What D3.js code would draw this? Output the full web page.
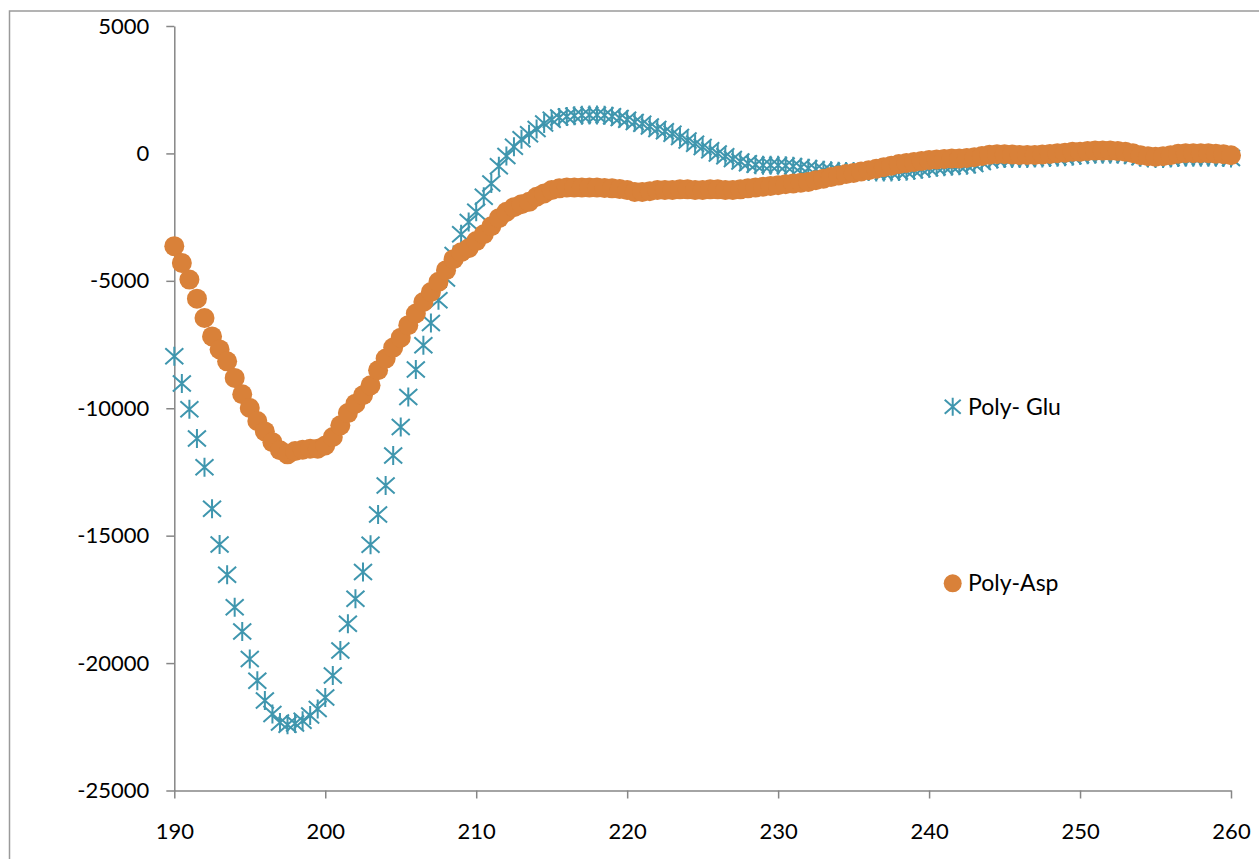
<!DOCTYPE html>
<html>
<head>
<meta charset="utf-8">
<script src="https://cdn.jsdelivr.net/npm/d3@7"></script>
<style>
  html, body { margin: 0; padding: 0; background: #fff; }
  svg { display: block; }
  .axis text { font-family: Lato, "Open Sans", sans-serif; font-size: 22px; fill: #000; }
  .axis path, .axis line { stroke: #868686; stroke-width: 1.5; }
</style>
</head>
<body>
<div id="chart"></div>
<script>
// Wavelength (nm)
const wavelength = [
  190, 190.5, 191, 191.5, 192, 192.5, 193, 193.5, 194, 194.5,
  195, 195.5, 196, 196.5, 197, 197.5, 198, 198.5, 199, 199.5,
  200, 200.5, 201, 201.5, 202, 202.5, 203, 203.5, 204, 204.5,
  205, 205.5, 206, 206.5, 207, 207.5, 208, 208.5, 209, 209.5,
  210, 210.5, 211, 211.5, 212, 212.5, 213, 213.5, 214, 214.5,
  215, 215.5, 216, 216.5, 217, 217.5, 218, 218.5, 219, 219.5,
  220, 220.5, 221, 221.5, 222, 222.5, 223, 223.5, 224, 224.5,
  225, 225.5, 226, 226.5, 227, 227.5, 228, 228.5, 229, 229.5,
  230, 230.5, 231, 231.5, 232, 232.5, 233, 233.5, 234, 234.5,
  235, 235.5, 236, 236.5, 237, 237.5, 238, 238.5, 239, 239.5,
  240, 240.5, 241, 241.5, 242, 242.5, 243, 243.5, 244, 244.5,
  245, 245.5, 246, 246.5, 247, 247.5, 248, 248.5, 249, 249.5,
  250, 250.5, 251, 251.5, 252, 252.5, 253, 253.5, 254, 254.5,
  255, 255.5, 256, 256.5, 257, 257.5, 258, 258.5, 259, 259.5,
  260
];

// Poly- Glu
const polyGlu = [
  -7960, -9030, -10040, -11190, -12320, -13940, -15350, -16530, -17810, -18760,
  -19840, -20690, -21470, -22000, -22330, -22420, -22370, -22260, -22060, -21800,
  -21350, -20490, -19510, -18460, -17480, -16430, -15360, -14170, -13030, -11850,
  -10740, -9560, -8480, -7530, -6650, -5760, -4910, -3990, -3170, -2690,
  -2290, -1700, -1180, -500, -100, 260, 560, 750, 960, 1170,
  1320, 1410, 1450, 1480, 1500, 1510, 1510, 1500, 1460, 1390,
  1320, 1230, 1160, 1060, 960, 870, 770, 640, 510, 380,
  250, 120, 0, -110, -220, -320, -390, -440, -460, -460,
  -460, -480, -500, -540, -580, -620, -660, -680, -700, -710,
  -710, -710, -710, -730, -730, -730, -710, -700, -660, -620,
  -580, -540, -520, -500, -480, -460, -420, -340, -260, -220,
  -200, -200, -200, -200, -180, -180, -160, -150, -130, -110,
  -70, -50, -30, -30, -30, -30, -50, -90, -150, -180,
  -200, -200, -180, -160, -150, -150, -150, -150, -150, -160,
  -180
];

// Poly-Asp
const polyAsp = [
  -3640, -4300, -4950, -5700, -6460, -7180, -7690, -8160, -8810, -9450,
  -9990, -10500, -10910, -11330, -11650, -11810, -11680, -11630, -11590, -11590,
  -11460, -11130, -10670, -10190, -9820, -9490, -9100, -8510, -8050, -7620,
  -7230, -6740, -6280, -5830, -5440, -5040, -4580, -4150, -3880, -3720,
  -3440, -3170, -2860, -2540, -2290, -2110, -1990, -1900, -1700, -1570,
  -1440, -1370, -1340, -1340, -1340, -1340, -1340, -1360, -1370, -1400,
  -1440, -1510, -1510, -1480, -1440, -1440, -1440, -1410, -1410, -1440,
  -1440, -1410, -1410, -1440, -1440, -1410, -1370, -1340, -1310, -1280,
  -1250, -1210, -1180, -1150, -1120, -1050, -990, -930, -870, -810,
  -770, -710, -660, -600, -540, -480, -420, -380, -340, -300,
  -260, -240, -220, -200, -200, -180, -150, -100, -50, -30,
  -30, -40, -60, -60, -60, -40, -20, 10, 30, 70,
  70, 90, 110, 110, 110, 90, 70, 10, -70, -110,
  -130, -110, -70, -10, 10, 10, 10, 10, -10, -30,
  -70
];

const xTicks = [190, 200, 210, 220, 230, 240, 250, 260];
const yTicks = [-25000, -20000, -15000, -10000, -5000, 0, 5000];

const W = 1259, H = 859;
const gluColor = "#3f96ae", aspColor = "#d98139";

const svg = d3.select("#chart").append("svg")
  .attr("width", W)
  .attr("height", H);

// outer chart frame (right / bottom edge fall outside the picture)
svg.append("rect")
  .attr("x", 9.5).attr("y", 11)
  .attr("width", 1300).attr("height", 900)
  .attr("fill", "none")
  .attr("stroke", "#9a9a9a")
  .attr("stroke-width", 1.5);

const x = d3.scaleLinear().domain([190, 260]).range([174.3, 1231]);
const y = d3.scaleLinear().domain([-25000, 5000]).range([790.5, 26]);

// axes
svg.append("g")
  .attr("class", "axis")
  .attr("transform", `translate(0,${y(-25000)})`)
  .call(d3.axisBottom(x).tickValues(xTicks).tickSize(8).tickPadding(25).tickSizeOuter(0));

svg.append("g")
  .attr("class", "axis")
  .attr("transform", `translate(${x(190)},0)`)
  .call(d3.axisLeft(y).tickValues(yTicks).tickSize(8).tickPadding(17).tickSizeOuter(0)
    .tickFormat(d => String(d)));   // plain hyphen like the original

// star marker (x with vertical bar)
const starPath = "M-9,-8L9,8M-9,8L9,-8M0,-9.5L0,9.5";

const gluData = wavelength.map((w, i) => ({ w, v: polyGlu[i] }));
const aspData = wavelength.map((w, i) => ({ w, v: polyAsp[i] }));

svg.append("g")
  .selectAll("path")
  .data(gluData)
  .join("path")
  .attr("transform", d => `translate(${x(d.w)},${y(d.v)})`)
  .attr("d", starPath)
  .attr("fill", "none")
  .attr("stroke", gluColor)
  .attr("stroke-width", 2);

svg.append("g")
  .selectAll("circle")
  .data(aspData)
  .join("circle")
  .attr("cx", d => x(d.w))
  .attr("cy", d => y(d.v))
  .attr("r", 10)
  .attr("fill", aspColor);

// legend
const legend = svg.append("g")
  .attr("font-family", "Lato, 'Open Sans', sans-serif")
  .attr("font-size", 23)
  .attr("fill", "#000");

legend.append("path")
  .attr("transform", "translate(952.7,406.7)")
  .attr("d", "M-8,-7L8,7M-8,7L8,-7M0,-9L0,9")
  .attr("fill", "none")
  .attr("stroke", gluColor)
  .attr("stroke-width", 2);
legend.append("text")
  .attr("x", 968).attr("y", 406.7 + 8)
  .text("Poly- Glu");

legend.append("circle")
  .attr("cx", 952.7).attr("cy", 583.3)
  .attr("r", 9)
  .attr("fill", aspColor);
legend.append("text")
  .attr("x", 968).attr("y", 583.3 + 8)
  .text("Poly-Asp");
</script>
</body>
</html>
